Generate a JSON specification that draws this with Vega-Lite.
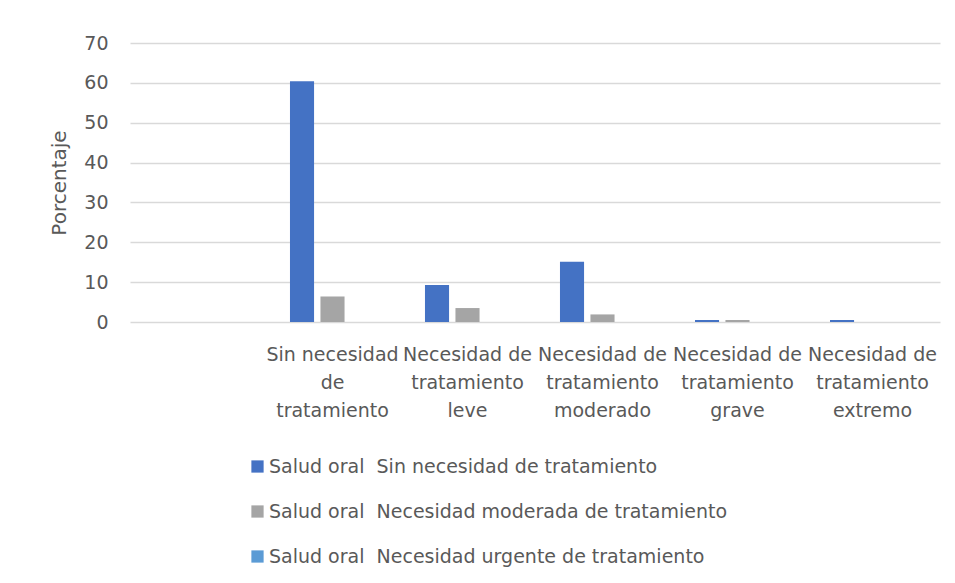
{
  "$schema": "https://vega.github.io/schema/vega-lite/v6.json",
  "width": 810,
  "height": 279,
  "autosize": {"type": "none"},
  "padding": {"left": 130, "top": 43, "right": 15, "bottom": 261},
  "background": "white",
  "data": {
    "values": [
      {"categoria": "Sin necesidad de tratamiento", "serie": "Salud oral\u00a0 Sin necesidad de tratamiento", "valor": 60.4},
      {"categoria": "Sin necesidad de tratamiento", "serie": "Salud oral\u00a0 Necesidad moderada de tratamiento", "valor": 6.4},
      {"categoria": "Sin necesidad de tratamiento", "serie": "Salud oral\u00a0 Necesidad urgente de tratamiento", "valor": 0},
      {"categoria": "Necesidad de tratamiento leve", "serie": "Salud oral\u00a0 Sin necesidad de tratamiento", "valor": 9.3},
      {"categoria": "Necesidad de tratamiento leve", "serie": "Salud oral\u00a0 Necesidad moderada de tratamiento", "valor": 3.5},
      {"categoria": "Necesidad de tratamiento leve", "serie": "Salud oral\u00a0 Necesidad urgente de tratamiento", "valor": 0},
      {"categoria": "Necesidad de tratamiento moderado", "serie": "Salud oral\u00a0 Sin necesidad de tratamiento", "valor": 15.1},
      {"categoria": "Necesidad de tratamiento moderado", "serie": "Salud oral\u00a0 Necesidad moderada de tratamiento", "valor": 1.9},
      {"categoria": "Necesidad de tratamiento moderado", "serie": "Salud oral\u00a0 Necesidad urgente de tratamiento", "valor": 0},
      {"categoria": "Necesidad de tratamiento grave", "serie": "Salud oral\u00a0 Sin necesidad de tratamiento", "valor": 0.5},
      {"categoria": "Necesidad de tratamiento grave", "serie": "Salud oral\u00a0 Necesidad moderada de tratamiento", "valor": 0.5},
      {"categoria": "Necesidad de tratamiento grave", "serie": "Salud oral\u00a0 Necesidad urgente de tratamiento", "valor": 0},
      {"categoria": "Necesidad de tratamiento extremo", "serie": "Salud oral\u00a0 Sin necesidad de tratamiento", "valor": 0.5},
      {"categoria": "Necesidad de tratamiento extremo", "serie": "Salud oral\u00a0 Necesidad moderada de tratamiento", "valor": 0},
      {"categoria": "Necesidad de tratamiento extremo", "serie": "Salud oral\u00a0 Necesidad urgente de tratamiento", "valor": 0}
    ]
  },
  "mark": {"type": "bar", "strokeWidth": 0},
  "encoding": {
    "x": {
      "field": "categoria",
      "type": "nominal",
      "sort": null,
      "scale": {
        "domain": [" ", "Sin necesidad de tratamiento", "Necesidad de tratamiento leve", "Necesidad de tratamiento moderado", "Necesidad de tratamiento grave", "Necesidad de tratamiento extremo"],
        "paddingInner": 0.37,
        "paddingOuter": 0.185
      },
      "axis": {
        "title": null,
        "labelAngle": 0,
        "domain": false,
        "ticks": false,
        "labelPadding": 23,
        "labelFont": "DejaVu Sans",
        "labelFontSize": 19,
        "labelColor": "#595959",
        "labelLineHeight": 28,
        "labelBaseline": "top",
        "labelLimit": 200,
        "labelExpr": "datum.value == 'Sin necesidad de tratamiento' ? ['Sin necesidad', 'de', 'tratamiento'] : (datum.value == ' ' ? '' : ['Necesidad de', 'tratamiento', replace(datum.value, 'Necesidad de tratamiento ', '')])"
      }
    },
    "xOffset": {
      "field": "serie",
      "type": "nominal",
      "sort": null,
      "scale": {"paddingInner": 0.21, "paddingOuter": 0}
    },
    "y": {
      "field": "valor",
      "type": "quantitative",
      "scale": {"domain": [0, 70], "nice": false},
      "axis": {
        "title": "Porcentaje",
        "titleFont": "DejaVu Sans",
        "titleFontSize": 20,
        "titleFontWeight": "normal",
        "titleColor": "#595959",
        "titlePadding": 14,
        "values": [0, 10, 20, 30, 40, 50, 60, 70],
        "domain": false,
        "ticks": false,
        "labelPadding": 22,
        "labelFont": "DejaVu Sans",
        "labelFontSize": 19,
        "labelColor": "#595959",
        "gridColor": "#d9d9d9",
        "gridWidth": 1.5
      }
    },
    "color": {
      "field": "serie",
      "type": "nominal",
      "sort": null,
      "scale": {
        "domain": ["Salud oral\u00a0 Sin necesidad de tratamiento", "Salud oral\u00a0 Necesidad moderada de tratamiento", "Salud oral\u00a0 Necesidad urgente de tratamiento"],
        "range": ["#4472C4", "#A5A5A5", "#5B9BD5"]
      },
      "legend": {
        "title": null,
        "orient": "none",
        "legendX": 118,
        "legendY": 414,
        "symbolType": "square",
        "symbolSize": 150,
        "symbolStrokeWidth": 0,
        "labelFont": "DejaVu Sans",
        "labelFontSize": 19,
        "labelColor": "#595959",
        "labelOffset": 2,
        "rowPadding": 25,
        "labelLimit": 600
      }
    }
  },
  "config": {
    "view": {"stroke": null}
  }
}
